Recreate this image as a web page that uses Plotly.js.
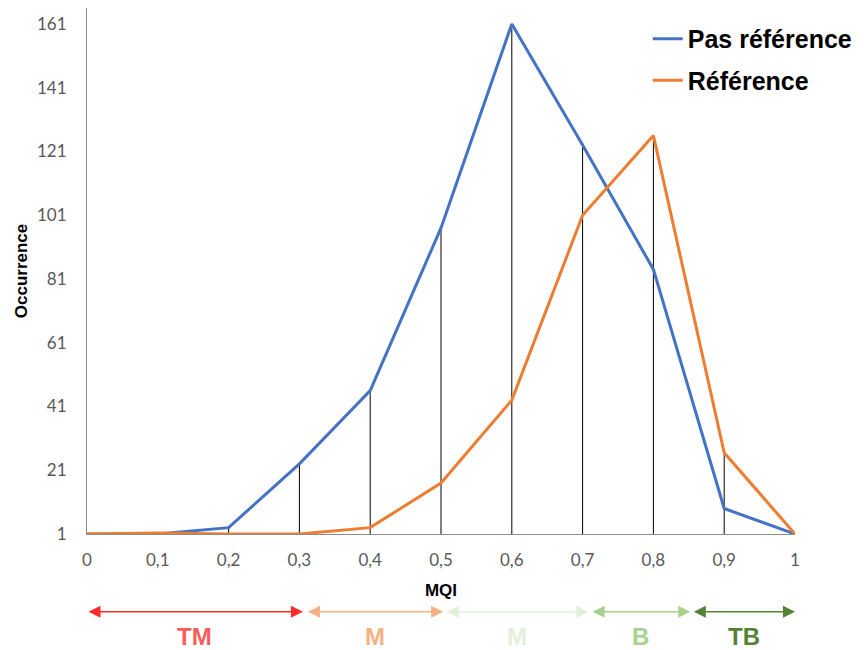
<!DOCTYPE html>
<html>
<head>
<meta charset="utf-8">
<script src="https://cdn.plot.ly/plotly-3.0.1.min.js"></script>
<style>
html,body{margin:0;padding:0;background:#fff;}
#chart{width:866px;height:650px;}
</style>
</head>
<body>
<div id="chart"></div>
<script>
// ---- data ----
const mqi = [0, 0.1, 0.2, 0.3, 0.4, 0.5, 0.6, 0.7, 0.8, 0.9, 1];
const pasReference = [1, 1, 3, 23, 46, 97, 161, 123, 84, 9, 1];
const reference = [1, 1.3, 1, 1, 3, 17, 43, 101, 126, 26.5, 1];
const seriesNames = ['Pas référence', 'Référence'];
const yTickVals = [1, 21, 41, 61, 81, 101, 121, 141, 161];
const xTickVals = [0, 0.1, 0.2, 0.3, 0.4, 0.5, 0.6, 0.7, 0.8, 0.9, 1];
const xTickText = ['0', '0,1', '0,2', '0,3', '0,4', '0,5', '0,6', '0,7', '0,8', '0,9', '1'];
const bandLabels = ['TM', 'M', 'M', 'B', 'TB'];
const bandStart = [0, 0.31, 0.506, 0.712, 0.855];
const bandEnd = [0.305, 0.503, 0.708, 0.852, 1.0];
const bandColors = ['#ff2a2a', '#f4b183', '#e2f0d9', '#a9d18e', '#548235'];
const bandTextColors = ['#ff5b5b', '#f4b183', '#e2f0d9', '#a9d18e', '#548235'];

// drop lines from the higher of the two series down to the axis
const dropX = [], dropY = [];
for (let i = 0; i < mqi.length; i++) {
  const top = Math.max(pasReference[i], reference[i]);
  dropX.push(mqi[i], mqi[i], null);
  dropY.push(1, top, null);
}

const traces = [
  {x: dropX, y: dropY, mode: 'lines', line: {color: '#000', width: 1}, showlegend: false, hoverinfo: 'skip'},
  {x: mqi, y: pasReference, name: seriesNames[0], legendgroup: 'a', mode: 'lines', line: {color: '#4472c4', width: 3}},
  {x: mqi, y: reference, name: seriesNames[1], legendgroup: 'b', mode: 'lines', line: {color: '#ed7d31', width: 3}}
];

const annotations = [];
for (let i = 0; i < bandLabels.length; i++) {
  annotations.push({
    x: bandEnd[i], y: -0.148, xref: 'x', yref: 'paper',
    ax: bandStart[i], ay: 0, axref: 'x', ayref: 'pixel',
    showarrow: true, arrowside: 'end+start', arrowhead: 2, arrowsize: 1.6,
    arrowwidth: 1.5, arrowcolor: bandColors[i], text: '', standoff: 0, startstandoff: 0
  });
  annotations.push({
    x: (bandStart[i] + bandEnd[i]) / 2, y: -0.194, xref: 'x', yref: 'paper',
    showarrow: false, text: '<b>' + bandLabels[i] + '</b>',
    font: {family: 'Liberation Sans, Arial, sans-serif', size: 24, color: bandTextColors[i]},
    yanchor: 'middle'
  });
}

const layout = {
  width: 866, height: 650,
  margin: {l: 87, r: 71, t: 8, b: 116},
  paper_bgcolor: '#fff', plot_bgcolor: '#fff',
  font: {family: 'Lato, Open Sans, sans-serif', color: '#595959'},
  xaxis: {
    range: [0, 1], tickvals: xTickVals, ticktext: xTickText,
    showgrid: false, zeroline: false, showline: true, linecolor: '#8c8c8c', linewidth: 1,
    ticks: '', tickfont: {size: 17, color: '#595959'}, ticklabelstandoff: 11,
    title: {text: '<b>MQI</b>', font: {family: 'Liberation Sans, Arial, sans-serif', size: 17, color: '#000'}, standoff: 14}
  },
  yaxis: {
    range: [1, 166], tickvals: yTickVals,
    showgrid: false, zeroline: false, showline: true, linecolor: '#8c8c8c', linewidth: 1,
    ticks: '', tickfont: {size: 17, color: '#595959'}, ticklabelstandoff: 16,
    title: {text: '<b>Occurrence</b>', font: {family: 'Liberation Sans, Arial, sans-serif', size: 17, color: '#000'}, standoff: 5}
  },
  legend: {
    x: 0.792, y: 0.985, xanchor: 'left', yanchor: 'top',
    font: {family: 'Liberation Sans, Arial, sans-serif', size: 25, color: '#000', weight: 'bold'},
    bgcolor: 'rgba(255,255,255,0)', traceorder: 'grouped', tracegroupgap: 6
  },
  annotations: annotations,
  showlegend: true
};

Plotly.newPlot('chart', traces, layout, {displayModeBar: false, staticPlot: true});
</script>
</body>
</html>
